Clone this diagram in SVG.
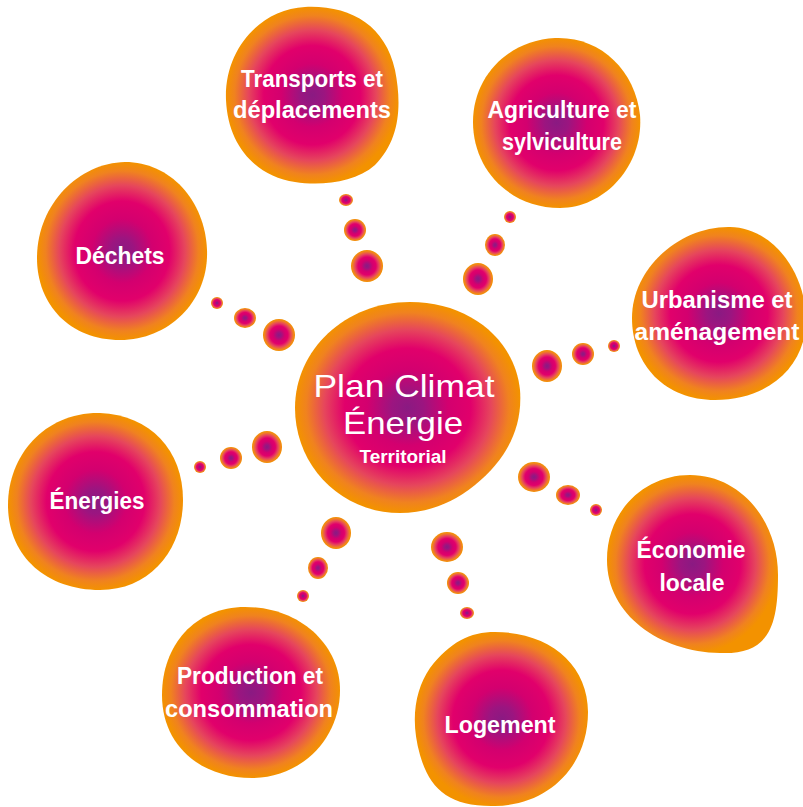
<svg xmlns="http://www.w3.org/2000/svg" width="803" height="807" viewBox="0 0 803 807">
<defs>
<radialGradient id="g" cx="0.5" cy="0.5" r="0.5">
<stop offset="0" stop-color="#8a1a82"/>
<stop offset="0.14" stop-color="#9b1580"/>
<stop offset="0.36" stop-color="#d3006f"/>
<stop offset="0.56" stop-color="#e1006b"/>
<stop offset="0.74" stop-color="#e6465c"/>
<stop offset="0.9" stop-color="#f0821f"/>
<stop offset="1" stop-color="#f39200"/>
</radialGradient>
<style>
.b{fill:url(#g)}
.t{fill:#fff;font-family:"Liberation Sans",Arial,sans-serif;font-weight:bold;font-size:24px;text-anchor:middle}
.c{fill:#fff;font-family:"Liberation Sans",Arial,sans-serif;text-anchor:middle}
</style>
</defs>
<rect width="803" height="807" fill="#fff"/>
<g id="connectors">
<ellipse class="b" cx="346" cy="200" rx="7" ry="6"/>
<ellipse class="b" cx="355" cy="230" rx="11" ry="11"/>
<ellipse class="b" cx="367" cy="266" rx="16" ry="16"/>
<ellipse class="b" cx="510" cy="217" rx="6" ry="6"/>
<ellipse class="b" cx="495" cy="245" rx="10" ry="11"/>
<ellipse class="b" cx="478" cy="279" rx="15" ry="16"/>
<ellipse class="b" cx="217" cy="303" rx="6" ry="6"/>
<ellipse class="b" cx="245" cy="318" rx="11" ry="10"/>
<ellipse class="b" cx="279" cy="335" rx="16" ry="16"/>
<ellipse class="b" cx="614" cy="346" rx="6" ry="6"/>
<ellipse class="b" cx="583" cy="354" rx="11" ry="11"/>
<ellipse class="b" cx="547" cy="366" rx="15" ry="16"/>
<ellipse class="b" cx="200" cy="467" rx="6" ry="6"/>
<ellipse class="b" cx="231" cy="458" rx="11" ry="11"/>
<ellipse class="b" cx="267" cy="447" rx="15" ry="16"/>
<ellipse class="b" cx="534" cy="477" rx="16" ry="15"/>
<ellipse class="b" cx="568" cy="495" rx="12" ry="10"/>
<ellipse class="b" cx="596" cy="510" rx="6" ry="6"/>
<ellipse class="b" cx="336" cy="533" rx="15" ry="16"/>
<ellipse class="b" cx="318" cy="568" rx="10" ry="11"/>
<ellipse class="b" cx="303" cy="596" rx="6" ry="6"/>
<ellipse class="b" cx="447" cy="547" rx="16" ry="15"/>
<ellipse class="b" cx="458" cy="583" rx="11" ry="11"/>
<ellipse class="b" cx="467" cy="613" rx="7" ry="6"/>
</g>
<g id="center">
<path class="b" d="M410,302 C470,302 515,340 520,390 C523,430 505,460 475,485 C450,505 425,513 400,513 C340,513 295,465 295,408 C295,350 345,302 410,302 Z"/>
<text class="c" x="404" y="397" font-size="32" textLength="181" lengthAdjust="spacingAndGlyphs">Plan Climat</text>
<text class="c" x="403" y="434" font-size="32" textLength="120" lengthAdjust="spacingAndGlyphs">Énergie</text>
<text class="c" x="403" y="463" font-size="19" font-weight="bold" textLength="87" lengthAdjust="spacingAndGlyphs">Territorial</text>
</g>
<g id="transports">
<path class="b" d="M305,7 C350,5 385,25 395,70 C402,105 400,140 375,165 C355,183 320,186 295,182 C255,176 228,145 226,100 C224,50 260,9 305,7 Z"/>
<text class="t" x="312" y="87" textLength="142" lengthAdjust="spacingAndGlyphs">Transports et</text>
<text class="t" x="312" y="118" textLength="158" lengthAdjust="spacingAndGlyphs">déplacements</text>
</g>
<g id="agriculture">
<path class="b" d="M555,38 C600,36 635,70 640,115 C644,165 605,208 560,208 C510,208 473,170 473,122 C473,75 510,40 555,38 Z"/>
<text class="t" x="562" y="118" textLength="149" lengthAdjust="spacingAndGlyphs">Agriculture et</text>
<text class="t" x="562" y="150" textLength="120" lengthAdjust="spacingAndGlyphs">sylviculture</text>
</g>
<g id="dechets">
<path class="b" d="M125,162 C170,162 205,200 207,250 C209,300 170,340 120,340 C70,340 37,305 37,258 C37,205 78,163 125,162 Z"/>
<text class="t" x="120" y="264" textLength="89" lengthAdjust="spacingAndGlyphs">Déchets</text>
</g>
<g id="urbanisme">
<path class="b" d="M730,227 C775,228 806,275 806,320 C806,365 770,400 715,400 C665,400 632,365 632,318 C632,268 680,226 730,227 Z"/>
<text class="t" x="717" y="308" textLength="151" lengthAdjust="spacingAndGlyphs">Urbanisme et</text>
<text class="t" x="717" y="340" textLength="165" lengthAdjust="spacingAndGlyphs">aménagement</text>
</g>
<g id="energies">
<path class="b" d="M100,413 C150,415 183,450 183,500 C183,550 150,590 100,590 C45,590 8,555 8,505 C8,455 45,412 100,413 Z"/>
<text class="t" x="97" y="509" textLength="95" lengthAdjust="spacingAndGlyphs">Énergies</text>
</g>
<g id="economie">
<path class="b" d="M690,475 C740,475 778,520 778,575 C778,625 770,655 720,653 C660,652 607,615 607,560 C607,510 645,475 690,475 Z"/>
<text class="t" x="691" y="558" textLength="109" lengthAdjust="spacingAndGlyphs">Économie</text>
<text class="t" x="692" y="591" textLength="65" lengthAdjust="spacingAndGlyphs">locale</text>
</g>
<g id="production">
<path class="b" d="M245,607 C300,607 340,645 340,690 C340,740 300,778 252,778 C200,778 162,745 162,695 C162,645 195,607 245,607 Z"/>
<text class="t" x="250" y="684" textLength="146" lengthAdjust="spacingAndGlyphs">Production et</text>
<text class="t" x="249" y="717" textLength="168" lengthAdjust="spacingAndGlyphs">consommation</text>
</g>
<g id="logement">
<path class="b" d="M495,632 C550,632 588,665 588,712 C588,765 550,805 495,806 C450,807 430,790 420,755 C410,720 415,690 430,668 C450,642 470,632 495,632 Z"/>
<text class="t" x="500" y="733" textLength="111" lengthAdjust="spacingAndGlyphs">Logement</text>
</g>
</svg>
